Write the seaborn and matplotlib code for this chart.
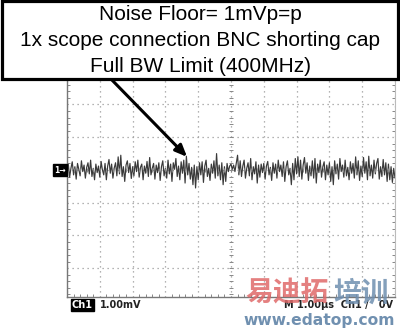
import numpy as np
import matplotlib
matplotlib.use("Agg")
import matplotlib.pyplot as plt
import seaborn as sns
from matplotlib.patches import Rectangle

# ---- data (Ch1 noise trace, mV; 1 div = 1 mV, 1 div = 1 us) ----
sample_interval_us = 0.04
noise_mv = [
    -0.10, 0.18, -0.22, 0.05, 0.25, -0.15, 0.10, -0.28, 0.20, 0.02, -0.18, 0.28, -0.05, 0.15, -0.25, 0.08, 0.22, -0.12, 0.30, -0.20, 0.05, -0.30, 0.18, -0.08, 0.12,
    -0.22, 0.26, 0.00, -0.15, 0.20, -0.30, 0.12, 0.32, -0.10, 0.18, -0.25, 0.06, 0.22, -0.18, 0.40, -0.12, 0.45, -0.20, 0.10, -0.35, 0.15, 0.28, -0.08, 0.20, -0.26,
    0.10, -0.18, 0.25, -0.05, 0.30, -0.22, 0.08, 0.18, -0.30, 0.12, -0.10, 0.26, -0.20, 0.38, -0.15, 0.05, 0.20, -0.28, 0.15, -0.08, 0.22, -0.32, 0.10, 0.28, -0.18,
    0.05, -0.25, 0.30, -0.12, 0.18, -0.35, 0.22, 0.02, 0.35, -0.20, 0.12, -0.30, 0.25, -0.10, 0.30, -0.40, 0.42, -0.15, 0.20, -0.28, 0.08, -0.45, 0.15, -0.55, 0.10,
    -0.30, 0.22, -0.15, 0.25, -0.38, 0.12, 0.30, -0.20, 0.05, -0.32, 0.18, -0.10, 0.28, -0.25, 0.50, -0.18, 0.15, -0.30, 0.22, -0.45, 0.10, -0.35, 0.20, -0.05, 0.12,
    0.18, 0.02, 0.15, -0.05, 0.20, 0.45, -0.15, 0.28, -0.20, 0.12, 0.30, -0.25, 0.05, 0.22, -0.18, 0.35, -0.30, 0.10, -0.12, 0.25, -0.40, 0.15, -0.22, 0.18, -0.08,
    0.20, -0.28, 0.12, 0.26, -0.15, 0.08, -0.32, 0.22, -0.10, 0.18, -0.25, 0.30, -0.05, 0.15, -0.20, 0.25, -0.35, 0.10, 0.28, -0.15, 0.05, -0.45, 0.20, -0.30, 0.35,
    -0.12, 0.40, -0.20, 0.30, -0.28, 0.15, 0.38, -0.10, 0.22, -0.32, 0.12, -0.18, 0.28, -0.25, 0.35, -0.40, 0.18, -0.08, 0.30, -0.22, 0.10, 0.25, -0.30, 0.15, -0.15,
    0.22, -0.35, 0.10, -0.45, 0.28, -0.12, 0.18, -0.28, 0.35, -0.05, 0.15, -0.22, 0.30, -0.18, 0.08, -0.30, 0.25, -0.10, 0.20, -0.25, 0.40, -0.15, 0.28, -0.32, 0.12,
    -0.20, 0.38, -0.10, 0.25, -0.30, 0.42, -0.18, 0.15, -0.25, 0.30, -0.12, 0.20, 0.35, -0.28, 0.10, -0.20, 0.32, -0.15, 0.22, -0.35, 0.18, -0.30, 0.10, -0.38, 0.05, -0.25,
]
time_us = np.arange(len(noise_mv)) * sample_interval_us

title_lines = ["Noise Floor= 1mVp=p",
               "1x scope connection BNC shorting cap",
               "Full BW Limit (400MHz)"]
arrow_target = (3.66, 0.40)
ch_label = "Ch1"
scale_label = "1.00mV"
timebase_label = "M 1.00\u00b5s  Ch1 /   0V"

# ---- figure ----
sns.set_style("white")
plt.rcParams['font.family'] = ['Liberation Sans', 'DejaVu Sans']
W, H = 400, 331
fig = plt.figure(figsize=(W / 100, H / 100), dpi=100)
fig.patch.set_facecolor("white")

def fx(px):
    return px / W

def fy(py):
    return 1 - py / H

ax = fig.add_axes([fx(67), fy(297), (395 - 67) / W, (297 - 39) / H])
sns.lineplot(x=time_us, y=noise_mv, ax=ax, color="#3a3a3a", linewidth=0.85)
ax.set_xlim(0, 10)
ax.set_ylim(-3.88, 4)
ax.set_xticks(np.arange(0, 11, 1))
ax.set_yticks(np.arange(-3, 5, 1))
ax.set_xticks(np.arange(0, 10.01, 0.2), minor=True)
ax.set_yticks(np.arange(-3.8, 4.01, 0.2), minor=True)
ax.tick_params(which="both", direction="in", labelbottom=False, labelleft=False,
               top=True, right=True, bottom=True, left=True, color="#888888")
ax.tick_params(which="major", length=0)
ax.tick_params(which="minor", length=2.5, width=0.7)
ax.grid(True, which="major", color="#9a9a9a", linestyle=(0, (1, 3)), linewidth=0.9)
for side in ["left", "bottom"]:
    ax.spines[side].set_color("#777777")
    ax.spines[side].set_linewidth(1.0)
for side in ["right", "top"]:
    ax.spines[side].set_color("#bbbbbb")
    ax.spines[side].set_linewidth(0.8)
ax.set_xlabel("")
ax.set_ylabel("")

# centre cross tick marks
minor_y = np.arange(-3.8, 4.01, 0.2)
minor_x = np.arange(0, 10.01, 0.2)
ax.hlines(minor_y, 4.93, 5.07, color="#888888", linewidth=0.7)
ax.vlines(minor_x, -0.07, 0.07, color="#888888", linewidth=0.7)

# arrow
ax.annotate("", xy=arrow_target, xycoords="data",
            xytext=(fx(110), fy(78)), textcoords="figure fraction",
            arrowprops=dict(arrowstyle="-|>,head_length=0.7,head_width=0.3",
                            lw=2.2, color="black", shrinkA=0, shrinkB=0),
            annotation_clip=False)

# title box
box = Rectangle((fx(2), fy(79)), fx(396), (79 - 1) / H, transform=fig.transFigure,
                facecolor="white", edgecolor="black", linewidth=2.3, zorder=10)
fig.add_artist(box)
for line, py in zip(title_lines, [15, 41, 67]):
    fig.text(0.5, fy(py), line, ha="center", va="center", fontsize=15,
             color="black", zorder=11)

# channel marker
fig.text(fx(60), fy(170), "1\u2192", ha="center", va="center", fontsize=5.5,
         color="white", fontweight="bold", family="DejaVu Sans",
         bbox=dict(boxstyle="square,pad=0.15", facecolor="black", edgecolor="black"))

# bottom readout
fig.text(fx(72), fy(305), ch_label, ha="left", va="center", fontsize=7,
         color="white", fontweight="bold", family="DejaVu Sans",
         bbox=dict(boxstyle="square,pad=0.12", facecolor="black", edgecolor="black"))
fig.text(fx(100), fy(305), scale_label, ha="left", va="center", fontsize=7,
         color="#222222", fontweight="bold", family="DejaVu Sans")
fig.text(fx(393), fy(305), timebase_label, ha="right", va="center", fontsize=7,
         color="#222222", fontweight="bold", family="DejaVu Sans")

# watermark
fig.text(fx(245), fy(294), "易迪拓", ha="left", va="center", fontsize=20,
         color="#e06a6a", alpha=0.85, fontweight="bold",
         family=["Noto Sans CJK SC", "DejaVu Sans"], zorder=12)
fig.text(fx(333), fy(294), "培训", ha="left", va="center", fontsize=20,
         color="#6f8fb0", alpha=0.85, fontweight="bold",
         family=["Noto Sans CJK SC", "DejaVu Sans"], zorder=12)
fig.text(fx(319), fy(320), "www.edatop.com", ha="center", va="center", fontsize=11.2,
         color="#7090b0", fontweight="bold", family="DejaVu Sans", zorder=12)

fig.savefig("out.png", dpi=100, facecolor="white")
